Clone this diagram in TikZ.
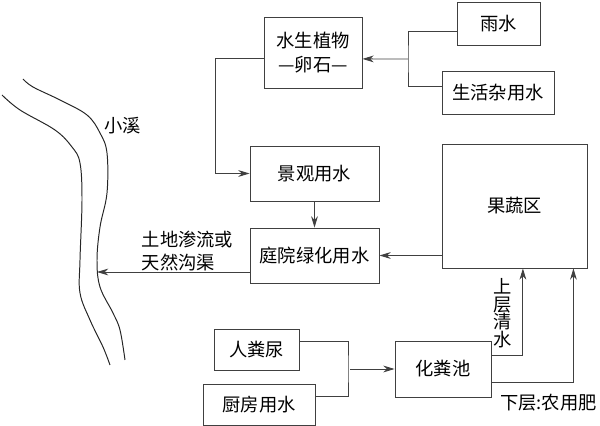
\documentclass[tikz,border=0pt]{standalone}
\usepackage{fontspec}
\newfontfamily\cjk{Noto Sans CJK SC}
\usetikzlibrary{arrows.meta}
\tikzset{>={Stealth[length=8pt,width=4.8pt,inset=2.5pt]}}
\tikzset{
    box/.style={rectangle,draw=black!75,line width=0.6pt,inner sep=1pt,align=center,font=\cjk\fontsize{13}{17}\selectfont},
    note/.style={rectangle,draw=none,inner sep=0pt,font=\cjk\fontsize{13}{17}\selectfont},
    flow/.style={arrows={->},draw=black!75,line width=0.6pt},
    wire/.style={draw=black!75,line width=0.6pt},
    bank/.style={draw=black!85,line width=0.7pt},
}

\begin{document}
\begin{tikzpicture}[x=0.025cm,y=-0.025cm]
		\useasboundingbox (0,0) rectangle (600,426);

		% boxes
		\node[box,minimum width=2.45cm,minimum height=1.775cm] (plant) at (313,52.5) {水生植物\\—卵石—};
		\node[box,minimum width=2.075cm,minimum height=1.075cm] (rain) at (498.5,23.5) {雨水};
		\node[box,minimum width=2.8cm,minimum height=1.075cm] (misc) at (498,92.5) {生活杂用水};
		\node[box,minimum width=3.225cm,minimum height=1.375cm] (view) at (314.5,173.5) {景观用水};
		\node[box,minimum width=3.225cm,minimum height=1.375cm] (yard) at (314.5,255.5) {庭院绿化用水};
		\node[box,minimum width=3.625cm,minimum height=3.1cm] (fruit) at (514.5,206) {果蔬区};
		\node[box,minimum width=2.125cm,minimum height=1.025cm] (manure) at (256.5,349.5) {人粪尿};
		\node[box,minimum width=2.8cm,minimum height=1.025cm] (kitchen) at (259,404.5) {厨房用水};
		\node[box,minimum width=2.4cm,minimum height=1.4cm] (tank) at (443,369) {化粪池};

		% stream
		\draw[bank] plot[smooth,tension=0.6] coordinates {(2,95) (20,110) (55,130) (72,147) (80,163) (82,200) (80,260) (80,293) (90,320) (103,347) (110,365)};
		\draw[bank] plot[smooth,tension=0.6] coordinates {(23,79) (33,87) (60,100) (87,115) (100,133) (107,153) (107,193) (100,227) (97,260) (100,287) (113,313) (120,330) (125,360)};
		\node[note] (creek) at (123,126) {小溪};

		% junctions
		\coordinate (rainjoin) at (408,59);
		\coordinate (wastejoin) at (348,369);
		\coordinate (inflow) at (97,272);

		% upper flows
		\draw[wire] ([yshift=-0.21cm]rain.west) -| (rainjoin) |- ([yshift=0.16cm]misc.west);
		\draw[flow] (rainjoin) -- ([yshift=-0.16cm]plant.east);
		\draw[flow] ([yshift=-0.16cm]plant.west) -- ++(-1.2cm,0) |- (view.west);
		\draw[flow] (view.south) -- (yard.north);
		\draw[flow] (fruit.west |- yard.east) -- (yard.east);
		\draw[flow] (yard.west |- inflow) -- (inflow);
		\node[note,align=left] (seep) at (187.5,251) {土地渗流或\\天然沟渠};

		% lower flows
		\draw[wire] ([yshift=0.21cm]manure.east) -| (wastejoin) |- ([yshift=0.21cm]kitchen.east);
		\draw[flow] ([xshift=0.05cm]wastejoin) -- (tank.west);
		\draw[flow] ([yshift=0.35cm]tank.east) -| ([xshift=0.21cm]fruit.south);
		\draw[flow] ([yshift=-0.325cm]tank.east) -| ([xshift=-0.35cm]fruit.south east);
		\node[note,align=center,font=\cjk\fontsize{13}{12.5}\selectfont] (upper) at (503,313) {上\\层\\清\\水};
		\node[note] (lower) at (548.5,402.5) {下层:农用肥};
	\end{tikzpicture}
\end{document}
